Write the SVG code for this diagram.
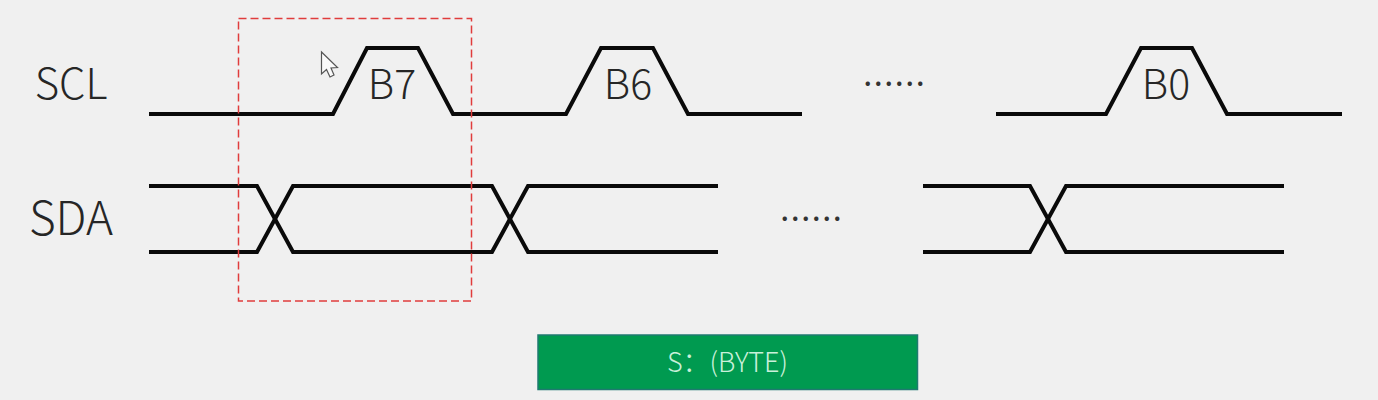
<svg xmlns="http://www.w3.org/2000/svg" width="1378" height="400" viewBox="0 0 1378 400">
<style>
.w{fill:none;stroke:#0a0a0a;stroke-width:4;stroke-linejoin:miter}
text{font-family:"Noto Sans CJK SC","Noto Sans","Liberation Sans",sans-serif;font-weight:300;fill:#262626;text-anchor:middle}
.big{font-size:42px}
.b{font-size:41px}
.dots{font-size:42px;fill:#333}
</style>
<rect width="1378" height="400" fill="#f0f0f0"/>
<g id="connectors">
<path class="w" d="M149 114H333L367 48H418L453 114H566L601 48H653L688 114H802"/>
<path class="w" d="M996 114H1106L1141 48H1192L1227 114H1342"/>
<path class="w" d="M149 186H257L293 252H492L528 186H718"/>
<path class="w" d="M149 252H257L293 186H492L528 252H718"/>
<path class="w" d="M923 186H1030L1066 252H1284"/>
<path class="w" d="M923 252H1030L1066 186H1284"/>
</g>
<g id="label-scl"><text class="big" x="71" y="98.500">SCL</text></g>
<g id="label-sda"><text x="71" y="235" font-size="46">SDA</text></g>
<g id="bit-b7"><text class="b" x="392" y="99">B7</text></g>
<g id="bit-b6"><text class="b" x="628" y="99">B6</text></g>
<g id="bit-b0"><text class="b" x="1166" y="99">B0</text></g>
<g id="dots-scl"><text class="dots" x="894" y="85">......</text></g>
<g id="dots-sda"><text class="dots" x="811" y="220">......</text></g>
<g id="highlight"><rect x="238.500" y="18.500" width="233" height="282.500" fill="none" stroke="#e03c3c" stroke-width="1.500" stroke-dasharray="8 4"/></g>
<g id="cursor"><path d="M321.500 52V74L326.500 69.500L330 77L334 75L331 68L337.500 67.500Z" fill="#fafafa" stroke="#555" stroke-width="1.200"/></g>
<g id="byte-box"><rect x="538" y="335" width="379.500" height="54.500" fill="#009a50" stroke="#1f7a70" stroke-width="1.500"/>
<text x="727.500" y="372" font-size="27" style="fill:#c9f0da">S：(BYTE)</text></g>
</svg>
